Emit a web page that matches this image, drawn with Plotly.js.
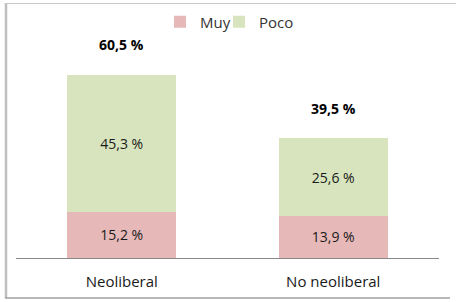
<!DOCTYPE html>
<html>
<head>
<meta charset="utf-8">
<script src="https://cdn.plot.ly/plotly-3.0.1.min.js"></script>
<style>html,body{margin:0;padding:0;background:#fff;}#chart{width:456px;height:302px;}</style>
</head>
<body>
<div id="chart"></div>
<script>
const categories = ['Neoliberal', 'No neoliberal'];
const muyValues = [15.2, 13.9];
const pocoValues = [45.3, 25.6];
const seriesNames = ['Muy', 'Poco'];

const FONT = '"Open Sans", sans-serif';
const totals = categories.map((c, i) => muyValues[i] + pocoValues[i]);

const traces = [
  {
    type: 'bar', name: seriesNames[0], x: categories, y: muyValues,
    marker: {color: '#E6B9B8'}, legend: 'legend',
    texttemplate: '%{y:.1f} %', textposition: 'inside', insidetextanchor: 'middle',
    textfont: {family: FONT, size: 14, color: '#1a1a1a'},
    hoverinfo: 'none'
  },
  {
    type: 'bar', name: seriesNames[1], x: categories, y: pocoValues,
    marker: {color: '#D7E4BD'}, legend: 'legend2',
    texttemplate: '%{y:.1f} %', textposition: 'inside', insidetextanchor: 'middle',
    textfont: {family: FONT, size: 14, color: '#1a1a1a'},
    hoverinfo: 'none'
  }
];

const annotations = categories.map((c, i) => ({
  x: c, y: totals[i], xref: 'x', yref: 'y',
  text: '<b>' + totals[i].toFixed(1).replace('.', ',') + ' %</b>',
  showarrow: false, yanchor: 'middle', yshift: 30,
  font: {family: FONT, size: 14, color: '#000'}
}));

const L = 16, R = 17, T = 30, B = 44, W = 456, H = 302;
const pw = W - L - R, ph = H - T - B;
const px = v => (v - L) / pw;
const py = v => (H - B - v) / ph;

const shapes = [
  {type: 'line', xref: 'paper', yref: 'paper', x0: px(6), x1: px(6), y0: py(3), y1: py(298), line: {color: '#BFBFBF', width: 2.5}},
  {type: 'line', xref: 'paper', yref: 'paper', x0: px(5), x1: px(456), y0: py(3.5), y1: py(3.5), line: {color: '#C8C8C8', width: 1}},
  {type: 'line', xref: 'paper', yref: 'paper', x0: px(5), x1: px(450), y0: py(298), y1: py(298), line: {color: '#A0A0A0', width: 1.5}}
];

const legendBase = {
  orientation: 'h', xanchor: 'left', y: py(22), yanchor: 'middle',
  font: {family: FONT, size: 15, color: '#333'},
  itemwidth: 30, itemclick: false, bgcolor: 'rgba(0,0,0,0)'
};

const layout = {
  width: W, height: H,
  margin: {l: L, r: R, t: T, b: B, pad: 0, autoexpand: false},
  paper_bgcolor: '#fff', plot_bgcolor: '#fff',
  separators: ', ',
  barmode: 'stack', bargap: 0.485,
  showlegend: true,
  legend: Object.assign({}, legendBase, {x: px(160)}),
  legend2: Object.assign({}, legendBase, {x: px(219)}),
  xaxis: {
    showline: true, linecolor: '#898989', linewidth: 1,
    ticks: '', showgrid: false, zeroline: false, ticklabelstandoff: 10,
    tickfont: {family: FONT, size: 15, color: '#1a1a1a'}
  },
  yaxis: {
    range: [0, ph / 3.03], visible: false, showgrid: false, zeroline: false
  },
  annotations: annotations,
  shapes: shapes,
  font: {family: FONT}
};

Plotly.newPlot('chart', traces, layout, {displayModeBar: false, staticPlot: true});
</script>
</body>
</html>
